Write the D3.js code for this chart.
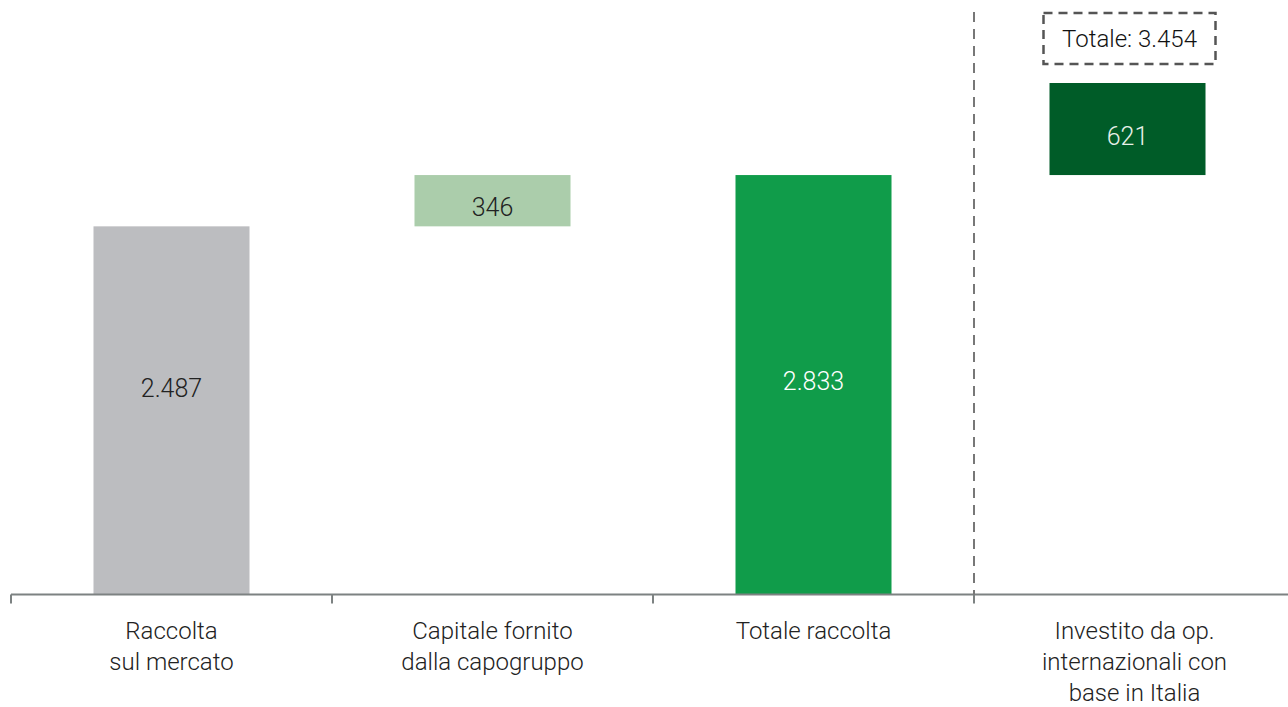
<!DOCTYPE html>
<html>
<head>
<meta charset="utf-8">
<script src="https://cdn.jsdelivr.net/npm/d3@7"></script>
<style>
  html, body { margin: 0; padding: 0; background: #fff; }
  svg { display: block; font-family: Roboto, "Open Sans", sans-serif; font-weight: 300; }
</style>
</head>
<body>
<svg id="chart" width="1288" height="707"></svg>
<script>
// Waterfall: market funding + parent capital = total, plus amount invested by Italy-based international operators
const categories = [
  ["Raccolta", "sul mercato"],
  ["Capitale fornito", "dalla capogruppo"],
  ["Totale raccolta"],
  ["Investito da op.", "internazionali con", "base in Italia"]
];
const values = [2487, 346, 2833, 621];
const bases = [0, 2487, 0, 2833];
const valueLabels = ["2.487", "346", "2.833", "621"];
const barColors = ["#bcbdc0", "#abcdab", "#109c4a", "#005c28"];
const labelColors = ["#222222", "#222222", "#ffffff", "#e8f0e8"];
const grandTotal = 3454;
const grandTotalLabel = "Totale: 3.454";

// layout tweaks: horizontal shift of each column's marks, vertical shift of each value label
const colShift = [0, 0, 0, -7];
const labelShift = [-22, 7, -4, 7];

const svg = d3.select("#chart");

const x = d3.scaleBand()
  .domain(d3.range(categories.length))
  .range([11, 11 + 321 * 4])
  .paddingInner(0.514)
  .paddingOuter(0.257);

const y = d3.scaleLinear().domain([0, grandTotal]).range([595, 83]);
const bx = i => x(i) + colShift[i];

// Bars
svg.selectAll("rect.bar")
  .data(values)
  .join("rect")
  .attr("class", "bar")
  .attr("x", (d, i) => bx(i))
  .attr("width", x.bandwidth())
  .attr("y", (d, i) => y(bases[i] + d))
  .attr("height", (d, i) => y(bases[i]) - y(bases[i] + d))
  .attr("fill", (d, i) => barColors[i]);

// Value labels inside the bars
svg.selectAll("text.val")
  .data(values)
  .join("text")
  .attr("class", "val")
  .attr("x", (d, i) => bx(i) + x.bandwidth() / 2)
  .attr("y", (d, i) => (y(bases[i] + d) + y(bases[i])) / 2 + labelShift[i])
  .attr("dy", "0.35em")
  .attr("text-anchor", "middle")
  .attr("font-size", 25)
  .attr("fill", (d, i) => labelColors[i])
  .text((d, i) => valueLabels[i]);

// Category axis with boundary ticks between bands
const step = x.step();
const tickXs = d3.range(categories.length).map(i => x(i) - x.paddingOuter() * step);
const axisY = 594.5;
svg.append("line")
  .attr("x1", tickXs[0]).attr("x2", 1288)
  .attr("y1", axisY).attr("y2", axisY)
  .attr("stroke", "#7d8282").attr("stroke-width", 2);
svg.selectAll("line.tick")
  .data(tickXs)
  .join("line")
  .attr("class", "tick")
  .attr("x1", d => d).attr("x2", d => d)
  .attr("y1", axisY).attr("y2", axisY + 9)
  .attr("stroke", "#7d8282").attr("stroke-width", 2);

// Category labels
const catG = svg.selectAll("text.cat")
  .data(categories)
  .join("text")
  .attr("class", "cat")
  .attr("text-anchor", "middle")
  .attr("font-size", 24)
  .attr("fill", "#222");
catG.selectAll("tspan")
  .data((d, i) => d.map(t => ({ t, i })))
  .join("tspan")
  .attr("x", d => x(d.i) + x.bandwidth() / 2)
  .attr("y", (d, j) => 639 + j * 31)
  .text(d => d.t);

// Dashed separator before the last category
svg.append("line")
  .attr("x1", tickXs[3]).attr("x2", tickXs[3])
  .attr("y1", 12).attr("y2", axisY)
  .attr("stroke", "#777").attr("stroke-width", 2)
  .attr("stroke-dasharray", "10,7");

// Dashed box with the grand total above the last bar
const cx = bx(3) + x.bandwidth() / 2;
const boxW = 172, boxH = 51;
svg.append("rect")
  .attr("x", cx - boxW / 2 + 2).attr("y", y(grandTotal) - 70)
  .attr("width", boxW).attr("height", boxH)
  .attr("fill", "none")
  .attr("stroke", "#555").attr("stroke-width", 2.5)
  .attr("stroke-dasharray", "9,6");
svg.append("text")
  .attr("x", cx + 2).attr("y", y(grandTotal) - 70 + boxH / 2)
  .attr("dy", "0.35em")
  .attr("text-anchor", "middle")
  .attr("font-size", 24)
  .attr("fill", "#111")
  .text(grandTotalLabel);
</script>
</body>
</html>
